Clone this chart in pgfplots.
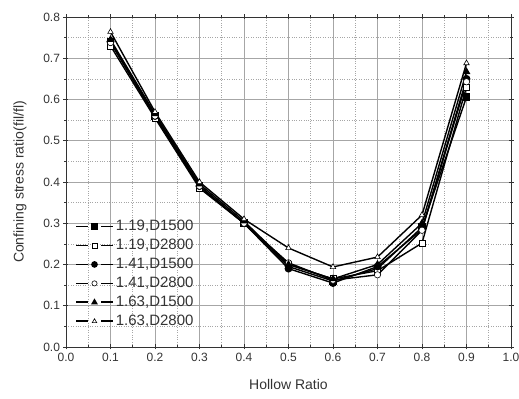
\documentclass[border=0pt]{standalone}
\usepackage{pgfplots}
\pgfplotsset{compat=1.18}
\usetikzlibrary{calc}
\usepackage{fontspec}
\setmainfont{Liberation Sans}
\begin{document}
\begin{tikzpicture}
\begin{axis}[
  scale only axis, width=445pt, height=330pt,
  xmin=0, xmax=1, ymin=0, ymax=0.8,
  xtick={0,0.1,...,1.0}, ytick={0,0.1,...,0.8},
  minor x tick num=1, minor y tick num=1,
  xticklabel style={/pgf/number format/.cd,fixed,fixed zerofill,precision=1},
  yticklabel style={/pgf/number format/.cd,fixed,fixed zerofill,precision=1},
  /pgf/number format/assume math mode=true,
  tick label style={font=\fontsize{12}{14}\selectfont, text=black!80},
  xlabel={Hollow Ratio}, ylabel={Confining stress ratio(fil/fl)},
  every axis y label/.style={at={(axis description cs:0,0.5)}, rotate=90, anchor=center, yshift=46pt, font=\fontsize{14}{16}\selectfont, text=black!80},
  every axis x label/.style={at={(axis description cs:0.5,0)}, anchor=center, yshift=-38pt, font=\fontsize{14}{16}\selectfont, text=black!80},
  grid=both,
  major grid style={gray!70, line width=0.6pt},
  minor grid style={gray!70, dotted, line width=0.6pt},
  axis line style={black!80, line width=0.8pt},
  tick style={black!80, line width=0.6pt},
  major tick length=5pt, minor tick length=3pt,
  tick align=center,
  legend style={at={(0.02,0.39)}, anchor=north west, draw=none, fill=none, inner sep=0pt,
    font=\fontsize{15}{17}\selectfont, row sep=3pt, text=black!80},
  legend cell align=left,
  legend image code/.code={\draw[mark=none, draw=black, line width=1.8pt] (0cm,0cm) -- (0.42cm,0cm) (0.88cm,0cm) -- (1.3cm,0cm); \draw[mark size=2.6pt] plot coordinates {(0.65cm,0cm)};},
  every axis plot/.append style={black, line width=1.4pt, mark size=3.2pt},
]
\addplot[mark=square*, mark options={fill=black}] coordinates {(0.1,0.74)(0.2,0.56)(0.3,0.39)(0.4,0.30)(0.5,0.195)(0.6,0.16)(0.7,0.19)(0.8,0.29)(0.9,0.606)};
\addlegendentry{1.19,D1500}
\addplot[mark=square*, mark options={fill=white, line width=0.6pt}] coordinates {(0.1,0.73)(0.2,0.555)(0.3,0.385)(0.4,0.30)(0.5,0.20)(0.6,0.165)(0.7,0.185)(0.8,0.252)(0.9,0.63)};
\addlegendentry{1.19,D2800}
\addplot[mark=*, mark options={fill=black}] coordinates {(0.1,0.74)(0.2,0.56)(0.3,0.39)(0.4,0.30)(0.5,0.19)(0.6,0.155)(0.7,0.195)(0.8,0.285)(0.9,0.65)};
\addlegendentry{1.41,D1500}
\addplot[mark=*, mark options={fill=white, line width=0.6pt}] coordinates {(0.1,0.738)(0.2,0.56)(0.3,0.39)(0.4,0.30)(0.5,0.204)(0.6,0.162)(0.7,0.175)(0.8,0.283)(0.9,0.643)};
\addlegendentry{1.41,D2800}
\addplot[mark=triangle*, mark options={fill=black}] coordinates {(0.1,0.745)(0.2,0.565)(0.3,0.395)(0.4,0.305)(0.5,0.20)(0.6,0.165)(0.7,0.20)(0.8,0.30)(0.9,0.667)};
\addlegendentry{1.63,D1500}
\addplot[mark=triangle*, mark options={fill=white, line width=0.6pt}] coordinates {(0.1,0.764)(0.2,0.57)(0.3,0.40)(0.4,0.31)(0.5,0.24)(0.6,0.194)(0.7,0.218)(0.8,0.32)(0.9,0.688)};
\addlegendentry{1.63,D2800}
\end{axis}
\pgfresetboundingbox
\path ($(current axis.south west)+(-66pt,-52pt)$) rectangle ($(current axis.north east)+(8pt,17pt)$);
\end{tikzpicture}
\end{document}
